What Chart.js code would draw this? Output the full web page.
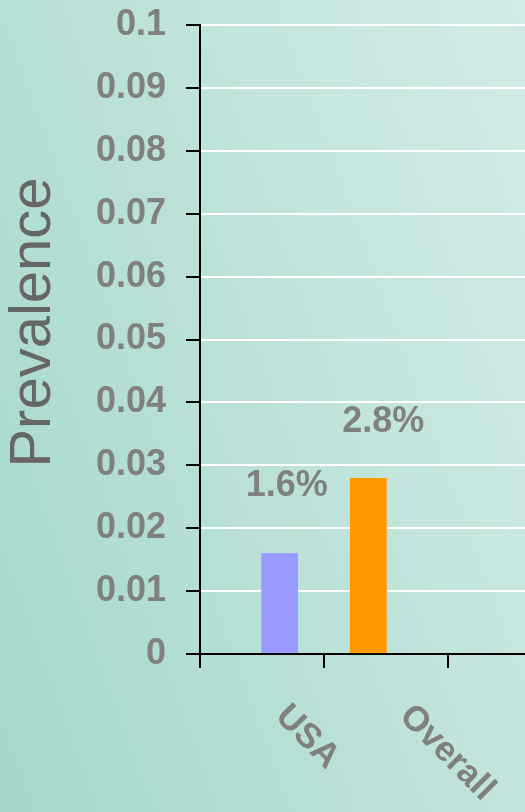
<!DOCTYPE html>
<html>
<head>
<meta charset="utf-8">
<script src="https://cdn.jsdelivr.net/npm/chart.js@4.4.1/dist/chart.umd.min.js"></script>
<style>
    html, body { margin: 0; padding: 0; width: 525px; height: 812px; overflow: hidden; }
    body { background: linear-gradient(70deg, #a3d7ca 0%, #bae1d7 45%, #d3ebe6 100%); }
    #wrap { position: absolute; left: 0; top: 0; width: 580px; height: 812px; }
</style>
</head>
<body>
<div id="wrap"><canvas id="chart" width="580" height="812"></canvas></div>
<script>
// categories (first/last are empty slots so the axis looks like the cropped original)
const categories = ['', 'USA', 'Overall', ''];
const usaValues = [null, 0.016, null, null];
const overallValues = [null, 0.028, null, null];
const yTickLabels = ['0', '0.01', '0.02', '0.03', '0.04', '0.05', '0.06', '0.07', '0.08', '0.09', '0.1'];
const yTitle = 'Prevalence';

const GRAY = '#808080';
const FONT = "'Liberation Sans', Arial, sans-serif";

// value labels above bars
const barLabels = {
    id: 'barLabels',
    afterDatasetsDraw(chart) {
        const { ctx } = chart;
        ctx.save();
        ctx.font = `bold 36px ${FONT}`;
        ctx.fillStyle = GRAY;
        ctx.textAlign = 'center';
        ctx.textBaseline = 'middle';
        chart.data.datasets.forEach((ds, di) => {
            const meta = chart.getDatasetMeta(di);
            meta.data.forEach((bar, i) => {
                const v = ds.data[i];
                if (v === null || v === undefined) return;
                const [dx, dy] = ds.labelShift;
                ctx.fillText((v * 100).toFixed(1) + '%', bar.x + dx, bar.y + dy);
            });
        });
        ctx.restore();
    }
};

// slanted category labels + y axis title
const axisText = {
    id: 'axisText',
    afterDraw(chart) {
        const { ctx } = chart;
        const xs = chart.scales.x;
        const ys = chart.scales.y;
        ctx.save();
        ctx.font = `bold 35px ${FONT}`;
        ctx.fillStyle = GRAY;
        ctx.textAlign = 'left';
        ctx.textBaseline = 'middle';
        categories.forEach((c, i) => {
            if (!c) return;
            ctx.save();
            ctx.translate(xs.getPixelForValue(i) - 43, xs.bottom + 43);
            ctx.rotate(Math.PI / 4);
            ctx.fillText(c, 0, 0);
            ctx.restore();
        });

        ctx.font = `58px ${FONT}`;
        ctx.fillStyle = '#666666';
        ctx.textAlign = 'center';
        ctx.translate(34, (ys.top + ys.bottom) / 2 - 17);
        ctx.rotate(-Math.PI / 2);
        ctx.fillText(yTitle, 0, 0);
        ctx.restore();
    }
};

new Chart(document.getElementById('chart'), {
    type: 'bar',
    data: {
        labels: categories,
        datasets: [
            {
                label: 'USA',
                data: usaValues,
                backgroundColor: '#9999ff',
                categoryPercentage: 1.43,
                barPercentage: 0.416,
                labelShift: [7, -67]
            },
            {
                label: 'Overall',
                data: overallValues,
                backgroundColor: '#ff9900',
                categoryPercentage: 1.43,
                barPercentage: 0.416,
                labelShift: [15, -56]
            }
        ]
    },
    options: {
        responsive: false,
        animation: false,
        layout: { padding: { top: 25, right: 8, bottom: 144, left: 0 } },
        plugins: {
            legend: { display: false },
            tooltip: { enabled: false }
        },
        scales: {
            x: {
                offset: false,
                ticks: { display: false },
                grid: {
                    offset: false,
                    drawOnChartArea: false,
                    drawTicks: true,
                    tickLength: 14,
                    tickColor: '#000',
                    lineWidth: 2
                },
                border: { color: '#000', width: 2, z: 1 }
            },
            y: {
                min: 0,
                max: 0.1,
                afterFit: (scale) => {
                    scale.width = 200;
                    scale.paddingTop = 0;
                },
                ticks: {
                    stepSize: 0.01,
                    padding: 20,
                    color: GRAY,
                    font: { family: FONT, size: 36, weight: 'bold' },
                    callback: (v, i) => yTickLabels[i]
                },
                grid: {
                    color: '#ffffff',
                    lineWidth: 2,
                    tickColor: '#000',
                    tickLength: 14
                },
                border: { color: '#000', width: 2, z: 1 }
            }
        }
    },
    plugins: [barLabels, axisText]
});
</script>
</body>
</html>
